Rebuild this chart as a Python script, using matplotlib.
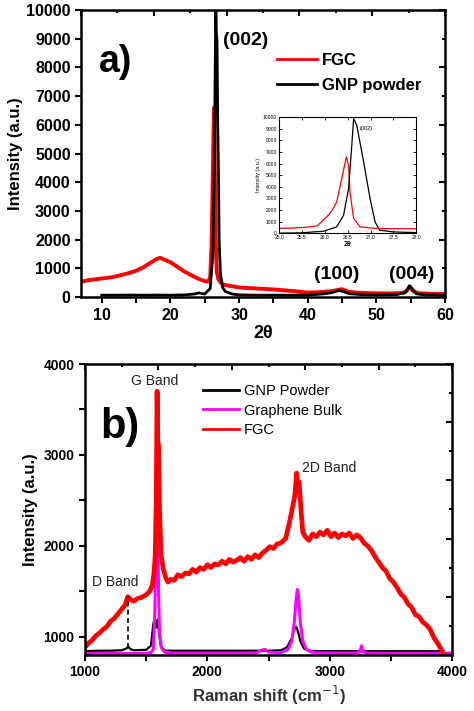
import matplotlib
matplotlib.use("Agg")
import matplotlib.pyplot as plt
from matplotlib.ticker import MultipleLocator, NullFormatter

plt.rcParams['font.family'] = ['Liberation Sans', 'DejaVu Sans']

# ---------------- XRD (panel a) ----------------
xrd_fgc_x = [7, 8, 9, 10, 11, 12, 13, 14, 15, 16, 17, 18, 18.5, 19, 20, 21, 22, 23, 24, 25, 25.5,
             25.8, 26.0, 26.15, 26.3, 26.4, 26.5, 26.6, 26.75, 27.0, 27.3, 27.7, 28.5, 30, 32, 35,
             38, 40, 42, 43.5, 44.5, 45, 45.8, 47, 49, 52, 54, 54.5, 54.9, 55.3, 56, 58, 60]
xrd_fgc_y = [530, 590, 620, 650, 680, 720, 780, 840, 920, 1030, 1180, 1330, 1370, 1320, 1220, 1060,
             900, 770, 650, 560, 540, 700, 1800, 3800, 6000, 6600, 4000, 2000, 900, 620, 520, 440,
             400, 340, 310, 270, 210, 160, 180, 210, 260, 280, 200, 160, 140, 130, 150, 250, 370,
             220, 140, 120, 110]

xrd_gnp_x = [10, 12, 14, 16, 18, 20, 22, 23.5, 24.2, 25, 25.8, 26.2, 26.4, 26.55, 26.62, 26.7,
             26.8, 26.9, 27.0, 27.1, 27.3, 27.6, 28, 29, 30, 33, 36, 40, 42.5, 43.5, 44.5, 45.2,
             46, 48, 50, 53, 54.3, 54.8, 55.2, 55.8, 57, 60]
xrd_gnp_y = [70, 70, 75, 70, 75, 70, 80, 110, 150, 110, 300, 1500, 4500, 8500, 10000, 9200, 8900,
             6000, 4500, 2000, 800, 350, 200, 110, 80, 70, 70, 70, 120, 160, 230, 200, 120, 90, 80,
             90, 180, 400, 300, 120, 80, 70]

# inset (zoom on (002))
ins_fgc_x = [24.95, 25.3, 25.6, 25.83, 26.04, 26.15, 26.26, 26.37, 26.47, 26.52, 26.55, 26.63,
             26.77, 27.0, 27.2, 27.6, 28.0]
ins_fgc_y = [405, 450, 520, 630, 1405, 1900, 2700, 4710, 6580, 5860, 3560, 1270, 545, 450, 400,
             390, 380]
ins_gnp_x = [24.95, 25.46, 25.97, 26.26, 26.41, 26.52, 26.59, 26.63, 26.70, 26.85, 26.99, 27.1,
             27.2, 27.5, 28.0]
ins_gnp_y = [0, 30, 170, 545, 1550, 3850, 7580, 9890, 9300, 6150, 3000, 975, 260, 110, 50]

# ---------------- Raman (panel b) ----------------
ram_gnp_x = [1000, 1100, 1200, 1300, 1340, 1355, 1370, 1400, 1500, 1540, 1560, 1575, 1585, 1595,
             1605, 1620, 1650, 1700, 1800, 2000, 2200, 2400, 2500, 2600, 2650, 2690, 2710, 2725,
             2740, 2760, 2790, 2830, 2900, 3000, 3200, 3400, 3600, 3800, 3930]
ram_gnp_y = [840, 845, 845, 850, 870, 890, 865, 850, 855, 900, 1150, 1180, 1100, 1190, 1050, 900,
             850, 845, 845, 845, 845, 845, 845, 850, 880, 980, 1080, 1110, 1060, 950, 870, 845,
             840, 840, 840, 840, 840, 840, 840]

ram_bulk_x = [1000, 1200, 1400, 1500, 1540, 1560, 1572, 1580, 1588, 1595, 1602, 1610, 1625, 1650,
              1700, 1800, 2000, 2200, 2400, 2440, 2470, 2500, 2600, 2660, 2690, 2710, 2725, 2735,
              2745, 2760, 2780, 2810, 2850, 2900, 3000, 3200, 3245, 3260, 3275, 3300, 3500, 3800,
              4000]
ram_bulk_y = [815, 815, 815, 818, 825, 860, 1300, 1900, 2480, 2200, 1500, 1050, 880, 830, 820, 818,
              818, 818, 820, 850, 860, 830, 822, 860, 950, 1150, 1400, 1520, 1450, 1150, 950, 860,
              830, 822, 820, 820, 830, 900, 830, 820, 818, 818, 818]

ram_fgc_x = [1000, 1030, 1060, 1090, 1120, 1150, 1180, 1210, 1240, 1270, 1300, 1330, 1350, 1365,
             1380, 1400, 1430, 1460, 1500, 1530, 1550, 1565, 1575, 1583, 1590, 1596, 1602, 1610,
             1622, 1640, 1660, 1680, 1700, 1730, 1760, 1790, 1820, 1850, 1880, 1910, 1940, 1970,
             2000, 2030, 2060, 2090, 2120, 2150, 2180, 2210, 2240, 2270, 2300, 2330, 2360, 2390,
             2420, 2450, 2480, 2510, 2540, 2570, 2600, 2640, 2670, 2700, 2715, 2730, 2740, 2750,
             2765, 2780, 2800, 2830, 2860, 2890, 2920, 2950, 2980, 3010, 3040, 3070, 3100, 3130,
             3160, 3190, 3220, 3250, 3280, 3310, 3340, 3370, 3400, 3430, 3460, 3490, 3520, 3550,
             3580, 3610, 3640, 3670, 3700, 3730, 3760, 3790, 3820, 3850, 3880, 3910, 3930]
ram_fgc_y = [880, 930, 960, 1010, 1040, 1080, 1110, 1170, 1200, 1250, 1300, 1350, 1440, 1420,
             1400, 1390, 1420, 1430, 1460, 1500, 1560, 1700, 1900, 2500, 3700, 3150, 3100, 2400,
             1900, 1750, 1650, 1600, 1630, 1620, 1680, 1660, 1700, 1690, 1740, 1710, 1760, 1740,
             1790, 1760, 1800, 1790, 1830, 1800, 1850, 1820, 1840, 1870, 1830, 1880, 1850, 1900,
             1870, 1920, 1950, 1990, 1970, 2020, 2030, 2080, 2250, 2450, 2550, 2800, 2650, 2700,
             2400, 2150, 2100, 2060, 2130, 2100, 2150, 2120, 2170, 2100, 2140, 2090, 2130, 2110,
             2140, 2080, 2120, 2090, 2030, 2000, 1950, 1880, 1820, 1760, 1720, 1640, 1600, 1540,
             1470, 1430, 1360, 1320, 1240, 1220, 1160, 1130, 1080, 990, 930, 860, 800]

fig = plt.figure(figsize=(4.74, 7.11), dpi=100)


def style_axes(ax, fs):
    for s in ax.spines.values():
        s.set_linewidth(1.8)
    ax.tick_params(axis='both', which='both', direction='out', width=1.5,
                   labelsize=fs, top=False, right=False)
    ax.tick_params(which='major', length=4)
    ax.tick_params(which='minor', length=4)
    for lab in ax.get_xticklabels() + ax.get_yticklabels():
        lab.set_fontweight('bold')


def frame_ticks(ax):
    tx = ax.twiny()
    tx.set_xlim(0, 1)
    tx.xaxis.set_major_locator(MultipleLocator(0.2))
    tx.xaxis.set_minor_locator(MultipleLocator(0.1))
    tx.xaxis.set_major_formatter(NullFormatter())
    tx.tick_params(axis='x', which='major', direction='in', length=4, width=1.5)
    tx.tick_params(axis='x', which='minor', direction='in', length=2.5, width=1.5)
    ty = ax.twinx()
    ty.set_ylim(0, 1)
    ty.yaxis.set_major_locator(MultipleLocator(0.2))
    ty.yaxis.set_minor_locator(MultipleLocator(0.1))
    ty.yaxis.set_major_formatter(NullFormatter())
    ty.tick_params(axis='y', which='major', direction='in', length=4, width=1.5)
    ty.tick_params(axis='y', which='minor', direction='in', length=2.5, width=1.5)
    for t in (tx, ty):
        for s in t.spines.values():
            s.set_visible(False)


# ---------- panel a ----------
axa = fig.add_axes([0.171, 0.582, 0.768, 0.404])
axa.plot(xrd_fgc_x, xrd_fgc_y, color='#ff0000', lw=2.8, label='FGC')
axa.plot(xrd_gnp_x, xrd_gnp_y, color='black', lw=2.0, label='GNP powder')
axa.set_xlim(7, 60)
axa.set_ylim(0, 10000)
axa.xaxis.set_major_locator(MultipleLocator(10))
axa.xaxis.set_minor_locator(MultipleLocator(5))
axa.yaxis.set_major_locator(MultipleLocator(1000))
style_axes(axa, 11.5)
axa.set_xlabel('2θ', fontsize=13, fontweight='bold', labelpad=2)
axa.set_ylabel('Intensity (a.u.)', fontsize=12, fontweight='bold', labelpad=2)
frame_ticks(axa)
axa.text(9.6, 8200, 'a)', fontsize=27, fontweight='bold', va='center', ha='left')
axa.text(27.6, 8950, '(002)', fontsize=14, fontweight='bold', va='center', ha='left')
axa.text(44.2, 780, '(100)', fontsize=14, fontweight='bold', va='center', ha='center')
axa.text(55.1, 780, '(004)', fontsize=14, fontweight='bold', va='center', ha='center')
lega = axa.legend(loc='upper left', bbox_to_anchor=(0.52, 0.875), frameon=False,
                  prop={'size': 12, 'weight': 'bold'}, handlelength=2.4,
                  handletextpad=0.3, labelspacing=0.6, borderaxespad=0)
for ln in lega.get_lines():
    ln.set_linewidth(2.0)

# inset
axi = fig.add_axes([0.589, 0.672, 0.289, 0.163])
axi.plot(ins_fgc_x, ins_fgc_y, color='#ff0000', lw=0.9)
axi.plot(ins_gnp_x, ins_gnp_y, color='black', lw=0.9)
axi.set_xlim(25.0, 28.0)
axi.set_ylim(0, 10000)
axi.yaxis.set_major_locator(MultipleLocator(1000))
for s in axi.spines.values():
    s.set_linewidth(0.8)
axi.tick_params(axis='both', direction='in', length=2, width=0.6, labelsize=3.6, pad=1.5,
                top=True, right=True)
axi.set_xticks([25.0, 25.5, 26.0, 26.5, 27.0, 27.5, 28.0])
axi.set_xticklabels(['25.0', '25.5', '26.0', '26.5', '27.0', '27.5', '28.0'])
axi.set_xlabel('2θ', fontsize=5, fontweight='bold', labelpad=0.5)
axi.set_ylabel('Intensity (a.u.)', fontsize=3.8, labelpad=1)
axi.text(26.77, 9000, '(002)', fontsize=4, va='center', ha='left')

# ---------- panel b ----------
axb = fig.add_axes([0.179, 0.079, 0.775, 0.409])
axb.plot(ram_gnp_x, ram_gnp_y, color='black', lw=1.6, label='GNP Powder')
axb.plot(ram_bulk_x, ram_bulk_y, color='#ff00ff', lw=2.2, label='Graphene Bulk')
axb.plot(ram_fgc_x, ram_fgc_y, color='#ff0000', lw=3.4, label='FGC')
axb.plot([1350, 1350], [880, 1440], color='black', lw=1.2, ls=(0, (3, 2)))
axb.set_xlim(1000, 4000)
axb.set_ylim(800, 4000)
axb.xaxis.set_major_locator(MultipleLocator(1000))
axb.xaxis.set_minor_locator(MultipleLocator(500))
axb.yaxis.set_major_locator(MultipleLocator(1000))
axb.yaxis.set_minor_locator(MultipleLocator(500))
style_axes(axb, 10)
axb.set_xlabel('Raman shift (cm$^{-1}$)', fontsize=12, fontweight='bold', color='#333333',
               labelpad=3)
axb.set_ylabel('Intensity (a.u.)', fontsize=12, fontweight='bold', labelpad=4)
frame_ticks(axb)
axb.text(1123, 3310, 'b)', fontsize=30, fontweight='bold', va='center', ha='left')
axb.text(1572, 3810, 'G Band', fontsize=10, va='center', ha='center', color='#222222')
axb.text(2774, 2860, '2D Band', fontsize=10, va='center', ha='left', color='#222222')
axb.text(1057, 1600, 'D Band', fontsize=10, va='center', ha='left', color='#222222')
legb = axb.legend(loc='upper left', bbox_to_anchor=(0.305, 0.95), frameon=False,
                  prop={'size': 10.5}, handlelength=2.5, handletextpad=0.3,
                  labelspacing=0.35, borderaxespad=0)
for ln in legb.get_lines():
    ln.set_linewidth(2.0)

fig.savefig('out.png', dpi=100)
